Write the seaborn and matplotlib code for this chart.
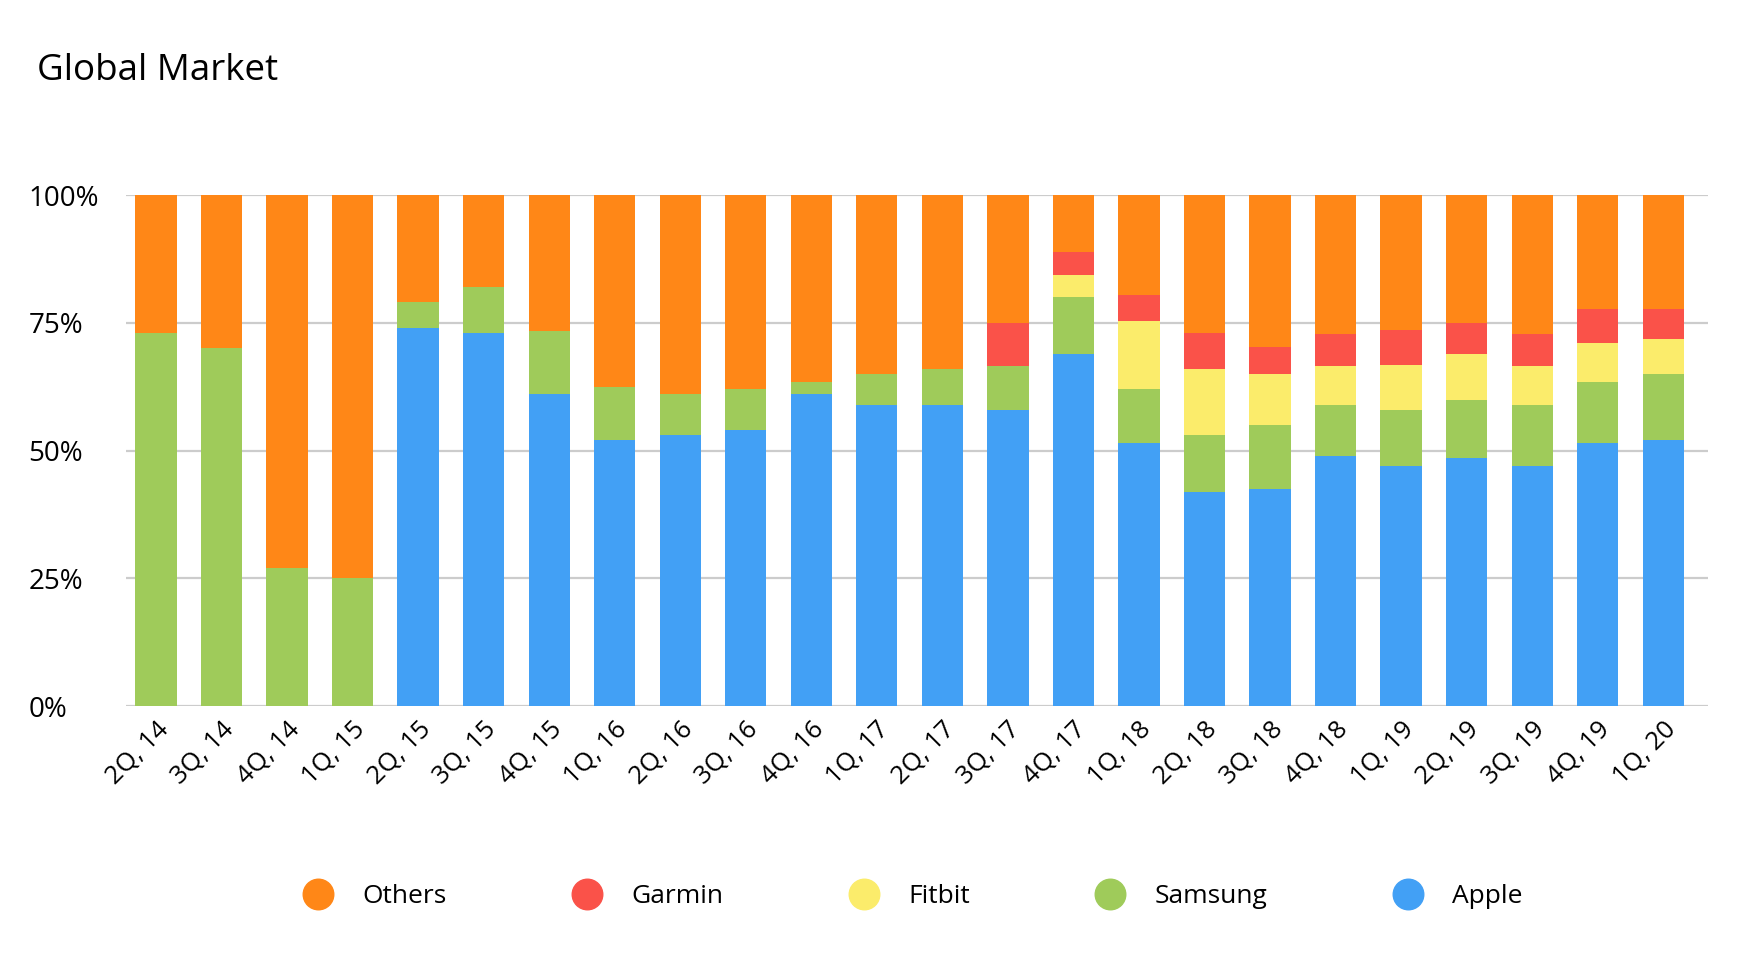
import numpy as np
import pandas as pd
import seaborn as sns
import matplotlib.pyplot as plt
from matplotlib.lines import Line2D
from matplotlib.ticker import PercentFormatter

# Datos (porcentaje de mercado por trimestre)
trimestres = ['2Q, 14', '3Q, 14', '4Q, 14', '1Q, 15', '2Q, 15', '3Q, 15', '4Q, 15',
              '1Q, 16', '2Q, 16', '3Q, 16', '4Q, 16', '1Q, 17', '2Q, 17', '3Q, 17',
              '4Q, 17', '1Q, 18', '2Q, 18', '3Q, 18', '4Q, 18', '1Q, 19', '2Q, 19',
              '3Q, 19', '4Q, 19', '1Q, 20']
apple = [0, 0, 0, 0, 74, 73, 61, 52, 53, 54, 61, 59, 59, 58, 69, 51.5, 42, 42.5,
         49, 47, 48.5, 47, 51.5, 52]
samsung = [73, 70, 27, 25, 5, 9, 12.5, 10.5, 8, 8, 2.5, 6, 7, 8.5, 11, 10.5, 11,
           12.5, 10, 11, 11.5, 12, 12, 13]
fitbit = [0, 0, 0, 0, 0, 0, 0, 0, 0, 0, 0, 0, 0, 0, 4.4, 13.3, 13, 10, 7.6, 8.7,
          9, 7.6, 7.5, 6.8]
garmin = [0, 0, 0, 0, 0, 0, 0, 0, 0, 0, 0, 0, 0, 8.5, 4.4, 5.2, 7, 5.2, 6.3, 7,
          5.9, 6.3, 6.7, 5.9]

df = pd.DataFrame({'trimestre': trimestres, 'Apple': apple, 'Samsung': samsung,
                   'Fitbit': fitbit, 'Garmin': garmin})
df['Others'] = 100 - df[['Apple', 'Samsung', 'Fitbit', 'Garmin']].sum(axis=1)

colores = {'Others': '#FF8717', 'Garmin': '#FA5249', 'Fitbit': '#FBEC6B',
           'Samsung': '#9FCB5A', 'Apple': '#42A0F5'}
orden = ['Apple', 'Samsung', 'Fitbit', 'Garmin', 'Others']

sns.set_style('white')
plt.rcParams['font.family'] = ['Open Sans', 'DejaVu Sans']
plt.rcParams['text.color'] = 'black'
plt.rcParams['xtick.color'] = 'black'
plt.rcParams['ytick.color'] = 'black'

fig = plt.figure(figsize=(17.48, 9.66), dpi=100)
ax = fig.add_axes([0.072, 0.269, 0.905, 0.529])

# barras apiladas: se dibuja el acumulado de arriba hacia abajo
acumulado = df[orden].cumsum(axis=1)
for marca in reversed(orden):
    sns.barplot(x=df['trimestre'], y=acumulado[marca], color=colores[marca],
                saturation=1, width=0.63, ax=ax, order=trimestres, linewidth=0)

ax.set_ylim(0, 100)
ax.set_xlim(-0.46, len(trimestres) - 0.32)
ax.set_yticks([0, 25, 50, 75, 100])
ax.yaxis.set_major_formatter(PercentFormatter(decimals=0))
ax.set_xlabel('')
ax.set_ylabel('')
ax.grid(axis='y', color='#CCCCCC', linewidth=1.6)
ax.set_axisbelow(True)
sns.despine(ax=ax, left=True, bottom=True)
ax.tick_params(axis='y', length=0, pad=70, labelsize=20)
for lbl in ax.get_yticklabels():
    lbl.set_horizontalalignment('left')
ax.tick_params(axis='x', length=0, pad=8, labelsize=18.5)
plt.setp(ax.get_xticklabels(), rotation=45, ha='right', rotation_mode='anchor')

fig.text(0.021, 0.927, 'Global Market', fontsize=26.5, va='center')

# leyenda
handles = [Line2D([0], [0], marker='o', linestyle='', markersize=22,
                  markerfacecolor=colores[m], markeredgecolor=colores[m])
           for m in ['Others', 'Garmin', 'Fitbit', 'Samsung', 'Apple']]
fig.legend(handles, ['Others', 'Garmin', 'Fitbit', 'Samsung', 'Apple'],
           loc='center', bbox_to_anchor=(0.519, 0.072), ncol=5, frameon=False,
           fontsize=19, columnspacing=4.3, handletextpad=0.7)

plt.savefig('out.png', dpi=100)
plt.close()
